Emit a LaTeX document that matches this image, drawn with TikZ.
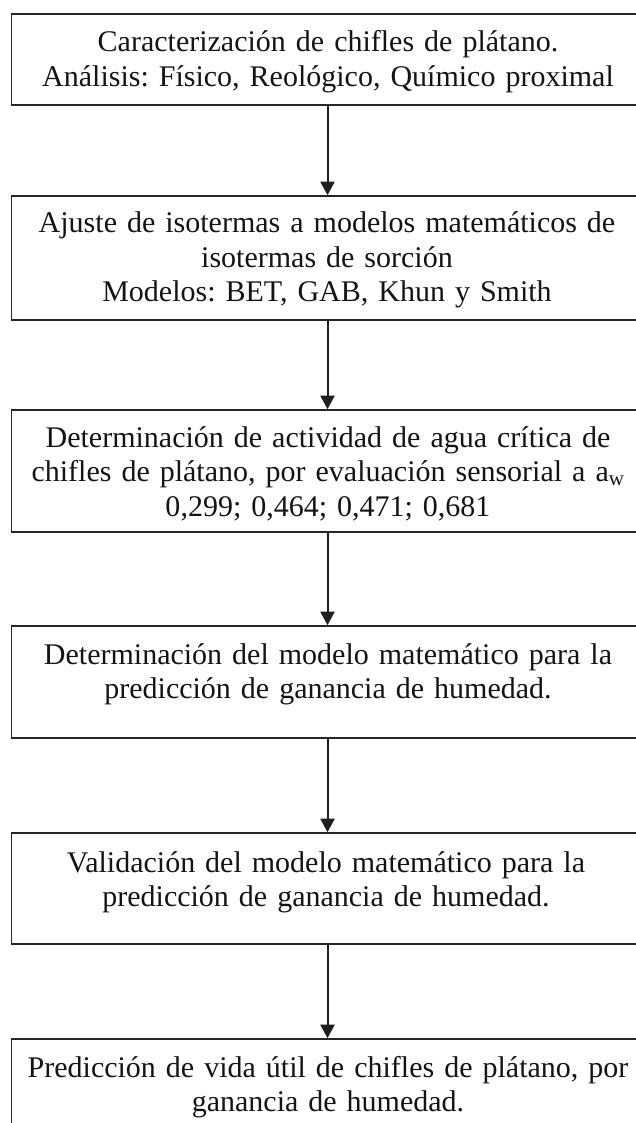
\documentclass[tikz,border=0pt]{standalone}
\usepackage{fontspec}
\setmainfont{Liberation Serif}
\usetikzlibrary{arrows.meta}
\frenchspacing
\begin{document}
\frenchspacing
\begin{tikzpicture}[x=1pt,y=-1pt,
  boxstyle/.style={draw=black!85, line width=1.6pt, minimum width=632pt, inner sep=0pt},
  txt/.style={text width=640pt, align=center, anchor=base, inner sep=0pt,
              font=\fontsize{30}{34.5}\selectfont\frenchspacing, text=black!92},
  arr/.style={draw=black!88, line width=2pt, -{Triangle[width=14pt,length=13.5pt]}}]
\useasboundingbox (0,0) rectangle (636,1123);
\clip (0,0) rectangle (636,1123);
% boxes
\node[boxstyle, minimum height=91pt]  (b1) at (327.5,59.5) {};
\node[boxstyle, minimum height=124pt] (b2) at (327.5,258) {};
\node[boxstyle, minimum height=122pt] (b3) at (327.5,471) {};
\node[boxstyle, minimum height=112pt] (b4) at (327.5,682) {};
\node[boxstyle, minimum height=111pt] (b5) at (327.5,888.5) {};
\node[boxstyle, minimum height=122pt] (b6) at (327.5,1100) {};
% texts
\node[txt] (t1) at (328,52) {Caracterización de chifles de plátano.\\Análisis: Físico, Reológico, Químico proximal};
\node[txt] (t2) at (327,233) {Ajuste de isotermas a modelos matemáticos de\\isotermas de sorción\\Modelos: BET, GAB, Khun y Smith};
\node[txt] (t3) at (328,447) {Determinación de actividad de agua crítica de\\chifles de plátano, por evaluación sensorial a a\textsubscript{w}\\0,299; 0,464; 0,471; 0,681};
\node[txt] (t4) at (328,664) {Determinación del modelo matemático para la\\predicción de ganancia de humedad.};
\node[txt] (t5) at (326,872) {Validación del modelo matemático para la\\predicción de ganancia de humedad.};
\node[txt] (t6) at (328,1077) {Predicción de vida útil de chifles de plátano, por\\ganancia de humedad.};
% arrows
\draw[arr] (b1) -- (b2);
\draw[arr] (b2) -- (b3);
\draw[arr] (b3) -- (b4);
\draw[arr] (b4) -- (b5);
\draw[arr] (b5) -- (b6);
\end{tikzpicture}
\end{document}
